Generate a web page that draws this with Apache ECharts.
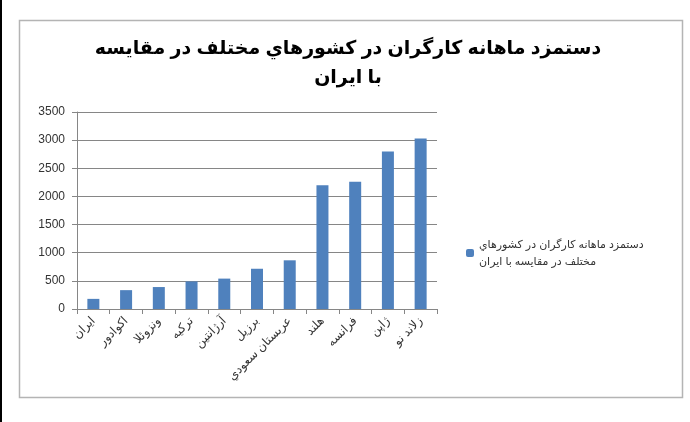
<!DOCTYPE html>
<html>
<head>
<meta charset="utf-8">
<script src="https://cdn.jsdelivr.net/npm/echarts@6/dist/echarts.min.js"></script>
<style>
html, body { margin: 0; padding: 0; background: #fff; }
#chart { width: 690px; height: 422px; }
</style>
</head>
<body>
<div id="chart"></div>
<script>
// کشورها
var countries = ['ایران', 'اکوادور', 'ونزوئلا', 'ترکیه', 'آرژانتین', 'برزیل', 'عربستان سعودي', 'هلند', 'فرانسه', 'ژاپن', 'زلاند نو']
// دستمزد ماهانه
var wages = [180, 335, 390, 490, 540, 715, 865, 2200, 2260, 2800, 3030]
var seriesName = 'دستمزد ماهانه کارگران در کشورهاي\nمختلف در مقايسه با ايران'
var titleText = 'دستمزد ماهانه کارگران در کشورهاي مختلف در مقايسه\nبا ايران'

var chart = echarts.init(document.getElementById('chart'))
var font = 'Arial, "Liberation Sans", "DejaVu Sans", sans-serif'

chart.setOption({
  animation: false,
  title: {
    text: titleText,
    left: 343,
    top: 29,
    textAlign: 'center',
    textStyle: {
      fontFamily: font,
      fontSize: 19,
      fontWeight: 'bold',
      color: '#000',
      lineHeight: 29
    }
  },
  graphic: [
    {
      type: 'rect',
      shape: { x: 19.5, y: 20.5, width: 663, height: 377 },
      style: { fill: 'none', stroke: '#b4b4b4', lineWidth: 1.5 },
      silent: true
    },
    {
      type: 'rect',
      shape: { x: 0, y: 0, width: 2, height: 422 },
      style: { fill: '#000' },
      silent: true
    }
  ],
  legend: {
    data: [seriesName],
    left: 461,
    top: 231,
    orient: 'vertical',
    itemWidth: 8,
    itemHeight: 8,
    itemGap: 6,
    textStyle: {
      fontFamily: font,
      fontSize: 11,
      color: '#333',
      lineHeight: 17
    }
  },
  grid: {
    left: 77,
    right: 253,
    top: 112,
    bottom: 113
  },
  xAxis: {
    type: 'category',
    data: countries,
    axisLine: { lineStyle: { color: '#868686', width: 1 } },
    axisTick: { show: true, length: 5, lineStyle: { color: '#868686' } },
    axisLabel: {
      rotate: 45,
      interval: 0,
      margin: 10,
      fontFamily: font,
      fontSize: 12,
      color: '#333'
    }
  },
  yAxis: {
    type: 'value',
    min: 0,
    max: 3500,
    interval: 500,
    axisLine: { show: true, lineStyle: { color: '#868686', width: 1 } },
    axisTick: { show: true, length: 5, lineStyle: { color: '#868686' } },
    axisLabel: {
      margin: 12,
      fontFamily: font,
      fontSize: 12,
      color: '#333',
      formatter: function (v) { return String(v) }
    },
    splitLine: { lineStyle: { color: '#868686', width: 1 } }
  },
  series: [
    {
      name: seriesName,
      type: 'bar',
      data: wages,
      barWidth: 12,
      itemStyle: { color: '#4F81BD' }
    }
  ]
})
</script>
</body>
</html>
